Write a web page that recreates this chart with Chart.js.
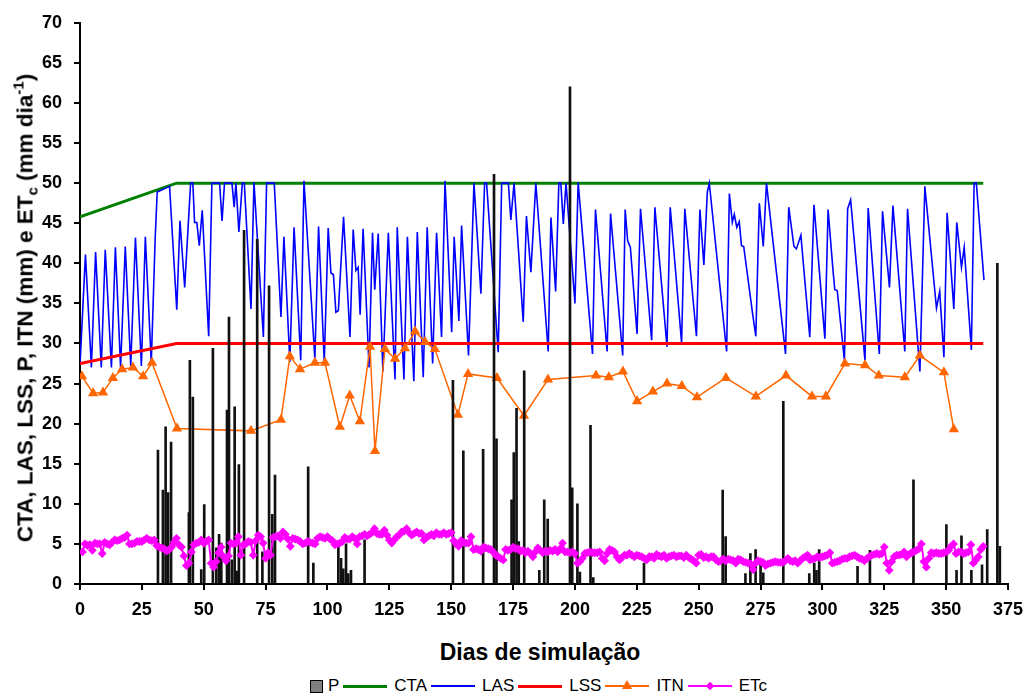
<!DOCTYPE html>
<html>
<head>
<meta charset="utf-8">
<script src="https://cdn.jsdelivr.net/npm/chart.js@4.4.0/dist/chart.umd.js"></script>
<style>
    body { margin: 0; background: #fff; font-family: Arial, "Liberation Sans", sans-serif; }
    #wrap { position: relative; width: 1026px; height: 696px; overflow: hidden; }
    #chart { position: absolute; left: 0; top: 0; }
    #ytitle {
        position: absolute; left: 25px; top: 308px;
        transform: translate(-50%, -50%) rotate(-90deg);
        white-space: nowrap; font-weight: bold; font-size: 22.5px; color: #000;
    }
    #ytitle sub, #ytitle sup { font-size: 15px; }
    #xtitle {
        position: absolute; left: 340px; width: 400px; top: 639px;
        text-align: center; font-weight: bold; font-size: 23px; color: #000;
    }
    #legend {
        position: absolute; left: 310px; top: 676px; height: 20px;
        display: flex; align-items: center; font-size: 17px; color: #000;
    }
    .item { display: flex; align-items: center; margin-right: 4px; }
    .sym { position: relative; width: 44px; height: 14px; margin-right: 7px; }
    .sym .ln { position: absolute; left: 0; right: 0; top: 50%; }
    .box { width: 11px; height: 11px; background: #808080; border: 1px solid #000; margin-right: 5px; }
    .tri { position: absolute; left: 17px; top: 1px; width: 0; height: 0;
           border-left: 5px solid transparent; border-right: 5px solid transparent; border-bottom: 9px solid #ff6600; }
    .dia { position: absolute; left: 19px; top: 4px; width: 6px; height: 6px; background: #ff00ff; transform: rotate(45deg); }
</style>
</head>
<body>
<div id="wrap">
    <canvas id="chart" width="1026" height="630"></canvas>
    <div id="ytitle">CTA, LAS, LSS, P, ITN (mm) e ET<sub>c</sub> (mm dia<sup>-1</sup>)</div>
    <div id="xtitle">Dias de simulação</div>
    <div id="legend">
        <div class="item"><span class="box"></span>P</div>
        <div class="item"><span class="sym"><span class="ln" style="border-top:3px solid #008000;margin-top:-1.5px"></span></span>CTA</div>
        <div class="item"><span class="sym"><span class="ln" style="border-top:2px solid #0000ff;margin-top:-1px"></span></span>LAS</div>
        <div class="item"><span class="sym"><span class="ln" style="border-top:3px solid #ff0000;margin-top:-1.5px"></span></span>LSS</div>
        <div class="item"><span class="sym"><span class="ln" style="border-top:2px solid #ff6600;margin-top:-1px"></span><span class="tri"></span></span>ITN</div>
        <div class="item"><span class="sym"><span class="ln" style="border-top:2px solid #ff00ff;margin-top:-1px"></span><span class="dia"></span></span>ETc</div>
    </div>
</div>
<script>
// Precipitation (P): day, mm
const pDays = [31.5, 33.5, 34.6, 35.6, 36.8, 44, 44.4, 45.6, 49, 50.2, 53.7, 55.1, 56.2, 57.1, 59.4, 60.2, 61.4, 62.5, 63.3, 64.2,
    66.3, 71.6, 73.7, 76.4, 77.7, 78.8, 92.2, 94.3, 104.4, 105.5, 106.4, 107.5, 108.4, 109.5, 115,
    150.7, 154.9, 162.9, 167.3, 168.3, 174.4, 175.3, 176.4, 177.3, 179.5, 185.6, 187.6, 189, 198, 198.9, 201, 202, 206.3, 207.4,
    227.9, 259.7, 260.9, 268.9, 270.9, 273, 275, 276.1, 284.2, 294.7, 296.7, 297.6, 298.7,
    314.2, 319.2, 336.8, 350.1, 354.2, 356.2, 360.2, 364.5, 366.6, 370.7, 371.7];
const pVals = [16.7, 11.7, 19.6, 11.4, 17.7, 8.9, 27.9, 23.3, 1.8, 9.9, 29.4, 4.5, 6.2, 5.1, 21.7, 33.3, 3, 22.1, 1.6, 14.9,
    44.1, 43, 4, 37.2, 8.7, 13.6, 14.6, 2.6, 4.6, 3.2, 1.9, 5, 1.3, 1.7, 5.5,
    25.4, 16.6, 16.8, 51.1, 18.1, 10.5, 16.4, 21.9, 5.3, 26.6, 1.7, 10.5, 8.1, 62, 12, 10, 1.5, 19.8, 0.8,
    2.6, 11.7, 5.9, 1.3, 3.8, 4.3, 2.5, 1.4, 22.8, 1.3, 2.6, 1.7, 4.3,
    2.2, 4.2, 13, 7.4, 1.7, 6, 1.7, 2.4, 6.8, 40, 4.7];

// CTA and LSS
const ctaDays = [0, 39, 365];
const ctaVals = [45.8, 50, 50];
const lssDays = [0, 39, 365];
const lssVals = [27.5, 30, 30];

// LAS (turning points)
const lasDays = [0, 2.2, 4.6, 6.3, 8.6, 10.2, 12.7, 14.3, 16.4, 18.3, 20.5, 22.4, 24.8, 26.4, 28.8, 30.4, 31.2, 36.2, 39.1, 40.4,
    42.3, 44.7, 45.6, 46.3, 47.2, 48.2, 49.4, 52, 53.3, 56.4, 57.4, 58.4, 61.4, 62.3, 63, 64.2, 65.6, 66.4, 69.1, 70.3,
    74.1, 75.4, 78.5, 81.2, 82.4, 84.8, 86.5, 89.2, 90.5, 94.9, 96.4, 98.7, 100.3, 101.4, 102.4, 103.4, 104.4, 106.5, 109.1, 110.4,
    111.5, 112.4, 113.2, 114.4, 116.8, 118.2, 119.1, 120.5, 122.4, 124.6, 127.3, 128.2, 130.9, 132.3, 134.9, 136.3, 138.7, 140.3, 142.5, 144.1,
    146.1, 147.5, 150.2, 151.2, 153.1, 154.2, 157, 159.2, 162, 163.5, 164.3, 169, 170.4, 173.1, 174.1, 175.4, 179.1, 180.4, 182.2, 184.2,
    189.2, 190.3, 192.2, 193.5, 194.3, 195.3, 196.4, 200, 201.3, 207.1, 208.3, 213, 214.4, 219.3, 220.3, 221.3, 222.4, 225.1, 226.5, 231,
    232.3, 237.2, 238.5, 243.1, 244.4, 249.1, 250.5, 252.1, 253.5, 254.3, 261.3, 262.4, 263.6, 264.4, 265.4, 266.4, 267.3, 268.2, 271.8, 273.1,
    274.5, 276.1, 277.4, 285.1, 286.4, 288.5, 289.5, 291.3, 294.9, 296.6, 301, 302.3, 304.1, 305, 306, 308.9, 310.2, 311.4, 317.2, 318.5,
    323, 324.3, 327.1, 328.5, 333.3, 334.4, 339.4, 341.4, 346.1, 347.4, 349.1, 350.4, 353.1, 354.3, 356.2, 357.3, 360.2, 361.3, 362.2, 365.3];
const lasVals = [27.3, 41.1, 27, 41.4, 27, 41.7, 27, 42, 27, 42.1, 27.2, 43.2, 27.2, 43.3, 27.6, 43.3, 48.9, 49.6, 34.2, 45.3,
    37, 50, 50, 45.1, 45.1, 42.2, 46.6, 30.9, 50, 50, 45.3, 50, 50, 47, 50, 43.9, 50, 50, 34.3, 50.1,
    30.8, 50, 50, 33.3, 43.3, 27.7, 44.5, 27.9, 50.3, 28.1, 44.6, 27.7, 44.4, 38.8, 38.6, 33.9, 34.1, 45.8, 30.8, 44.2,
    39.1, 39.5, 33.6, 44.3, 27, 43.8, 36.7, 43.7, 26.5, 43.8, 25.5, 44.5, 25.5, 43.3, 25.3, 43.9, 25.8, 44.5, 27.5, 43.8,
    30.8, 50.3, 31.4, 43.3, 32.8, 44.7, 28.5, 50, 36.2, 50, 50, 28.9, 50, 50, 45.4, 50, 32.7, 45.9, 38.9, 50,
    29, 45.7, 36.5, 50, 50, 44.9, 50, 35, 50.1, 28.7, 46.7, 29, 46.2, 28.5, 46.7, 42.8, 42, 31.2, 46.8, 30.4,
    47, 29.6, 47, 30.1, 46.8, 30.9, 46.7, 39.8, 48.9, 50, 29, 48.7, 45.1, 46.1, 44.5, 45.2, 42.2, 42.1, 33.7, 30.9,
    47.5, 42.1, 50, 28.7, 47, 42.1, 41.8, 43.5, 30.8, 47.3, 30.6, 46.7, 39.8, 36.7, 36.6, 27.9, 46.8, 47.9, 27.9, 46.9,
    28.7, 46.5, 37, 47.2, 29, 46.8, 26.5, 49.6, 34.4, 36.5, 28.3, 46.3, 34.3, 45.1, 39.5, 42, 29.2, 50, 50, 37.9];

// ITN (irrigation events)
const itnDays = [0.8, 5.3, 9.3, 13.3, 17, 21.4, 25.5, 29.1, 39.2, 69.1, 81.2, 84.8, 88.9, 94.9, 99, 105, 109, 113.1, 117.2, 119.2,
    123.2, 127.3, 131.3, 135.4, 139.4, 143.4, 152.7, 156.8, 168.5, 179.4, 189.1, 208.5, 213.7, 219.4, 225.1, 231.5, 237.2, 243.2, 249.3, 261,
    273.1, 285.3, 295.8, 301.4, 309.1, 317.2, 322.8, 333.3, 339.4, 349.1, 353.1];
const itnVals = [25.9, 23.8, 23.9, 25.7, 26.8, 27, 25.9, 27.6, 19.4, 19.1, 20.5, 28.4, 26.8, 27.6, 27.6, 19.6, 23.5, 20.3, 29.6, 16.6,
    29.3, 28.1, 29.4, 31.5, 30.2, 29.3, 21.1, 26.2, 25.7, 21, 25.5, 26, 25.8, 26.5, 22.8, 24, 25, 24.7, 23.3, 25.7,
    23.4, 26, 23.4, 23.4, 27.5, 27.3, 26, 25.8, 28.5, 26.4, 19.3];

// ETc, one value per day from day 1 to day 365
const etcVals = [
    4.0, 5.0, 4.8, 4.9, 4.2, 5.1, 5.0, 5.0, 3.8, 5.2,
    5.0, 4.9, 5.2, 5.5, 5.4, 5.5, 5.7, 5.8, 6.1, 5.0,
    5.0, 5.1, 5.3, 5.3, 5.3, 5.5, 5.7, 5.5, 5.4, 5.5,
    4.8, 4.6, 4.5, 4.4, 4.1, 4.3, 4.6, 5.2, 5.7, 4.9,
    4.6, 3.5, 2.3, 2.6, 4.0, 4.9, 5.1, 5.2, 5.5, 5.1,
    5.3, 5.5, 2.6, 2.1, 2.8, 3.9, 4.6, 3.4, 2.9, 3.5,
    5.1, 5.0, 5.1, 5.9, 3.6, 4.9, 5.0, 5.3, 5.2, 3.6,
    5.4, 6.1, 5.9, 5.1, 3.2, 3.9, 3.6, 5.8, 5.9, 6.0,
    5.7, 6.5, 6.2, 5.6, 4.7, 5.7, 5.6, 5.5, 5.3, 5.0,
    5.1, 5.3, 5.2, 5.1, 5.0, 5.7, 5.9, 5.8, 5.7, 5.9,
    5.6, 5.4, 4.9, 5.0, 5.1, 5.3, 5.8, 5.6, 5.6, 5.9,
    5.7, 5.0, 5.9, 6.0, 6.2, 6.0, 6.2, 6.4, 6.9, 6.3,
    6.2, 6.2, 6.7, 6.1, 5.5, 5.1, 5.5, 5.9, 6.1, 6.5,
    6.6, 6.9, 6.4, 6.1, 6.3, 6.5, 6.3, 6.3, 5.5, 5.8,
    6.0, 6.2, 6.0, 6.4, 6.2, 6.2, 6.4, 6.2, 6.3, 6.4,
    5.4, 5.0, 4.7, 5.4, 5.2, 5.1, 5.1, 5.9, 4.3, 4.4,
    4.3, 4.1, 4.6, 4.5, 4.4, 4.3, 4.0, 3.6, 3.4, 3.2,
    3.0, 4.3, 4.2, 4.3, 4.6, 4.4, 4.4, 4.1, 4.2, 3.9,
    4.1, 3.8, 3.4, 4.0, 4.5, 4.2, 3.9, 4.1, 4.0, 4.2,
    4.1, 4.3, 4.0, 4.4, 5.1, 4.0, 4.0, 3.9, 4.0, 3.8,
    2.6, 2.8, 3.2, 3.8, 3.9, 4.0, 3.9, 3.9, 3.9, 4.0,
    3.2, 2.9, 3.8, 4.3, 4.2, 4.0, 3.4, 3.0, 3.3, 3.6,
    3.6, 3.8, 3.6, 3.4, 3.6, 3.5, 3.4, 3.2, 3.0, 3.4,
    3.4, 3.2, 3.7, 3.5, 3.4, 3.6, 3.2, 3.4, 3.5, 3.6,
    3.4, 3.5, 3.5, 3.3, 3.6, 3.3, 3.1, 2.9, 2.6, 3.6,
    3.7, 3.3, 3.4, 3.2, 3.4, 3.4, 3.0, 2.8, 2.9, 3.1,
    2.9, 3.1, 3.0, 2.9, 2.6, 3.1, 3.0, 2.8, 2.7, 2.6,
    2.5, 1.8, 2.6, 2.9, 2.8, 2.7, 2.3, 2.5, 2.6, 2.7,
    2.8, 2.7, 2.7, 2.7, 2.9, 3.2, 2.9, 2.8, 2.9, 2.6,
    2.9, 3.2, 3.4, 3.6, 3.0, 3.1, 3.2, 3.4, 3.3, 3.4,
    3.5, 3.6, 3.9, 2.6, 2.7, 2.8, 2.9, 3.1, 3.2, 3.2,
    3.4, 3.5, 3.6, 3.4, 3.2, 3.1, 2.9, 3.2, 3.4, 3.6,
    3.7, 3.8, 3.7, 3.8, 4.6, 2.6, 1.7, 2.8, 3.4, 3.6,
    3.6, 3.7, 4.0, 3.4, 3.7, 3.9, 4.0, 4.2, 4.4, 5.0,
    2.8, 2.1, 3.2, 3.9, 3.8, 3.9, 3.8, 3.8, 3.9, 4.0,
    4.2, 4.7, 5.0, 3.8, 4.0, 4.0, 3.8, 3.9, 4.0, 4.9,
    2.6, 3.0, 3.4, 4.3, 4.7
];

const xTicks = [0, 25, 50, 75, 100, 125, 150, 175, 200, 225, 250, 275, 300, 325, 350, 375];
const yTicks = [0, 5, 10, 15, 20, 25, 30, 35, 40, 45, 50, 55, 60, 65, 70];

function pairs(xs, ys) {
    return xs.map((x, i) => ({ x: x, y: ys[i] }));
}

const tickFont = { family: "Arial, 'Liberation Sans', sans-serif", size: 18, weight: 'bold' };

new Chart(document.getElementById('chart'), {
    type: 'bar',
    data: {
        datasets: [
            {
                type: 'bar', label: 'P', data: pairs(pDays, pVals),
                backgroundColor: '#111', borderWidth: 0, barThickness: 2, order: 1
            },
            {
                type: 'line', label: 'CTA', data: pairs(ctaDays, ctaVals),
                borderColor: '#008000', borderWidth: 3, pointRadius: 0, order: 6
            },
            {
                type: 'line', label: 'LAS', data: pairs(lasDays, lasVals),
                borderColor: '#0000ff', borderWidth: 1.6, pointRadius: 0, order: 5
            },
            {
                type: 'line', label: 'LSS', data: pairs(lssDays, lssVals),
                borderColor: '#ff0000', borderWidth: 3, pointRadius: 0, order: 4
            },
            {
                type: 'line', label: 'ITN', data: pairs(itnDays, itnVals),
                borderColor: '#ff6600', borderWidth: 1.5, pointStyle: 'triangle', pointRadius: 4.5,
                pointBackgroundColor: '#ff6600', pointBorderColor: '#ff6600', order: 3
            },
            {
                type: 'line', label: 'ETc', data: etcVals.map((v, i) => ({ x: i + 1, y: v })),
                borderColor: '#ff00ff', borderWidth: 2, pointStyle: 'rectRot', pointRadius: 3,
                pointBackgroundColor: '#ff00ff', pointBorderColor: '#ff00ff', order: 0
            }
        ]
    },
    options: {
        responsive: false,
        animation: false,
        devicePixelRatio: 1,
        layout: { padding: { left: 0, right: 18, top: 22, bottom: 0 } },
        plugins: { legend: { display: false }, tooltip: { enabled: false } },
        scales: {
            x: {
                type: 'linear', min: 0, max: 375, offset: false,
                afterBuildTicks: (s) => { s.ticks = xTicks.map(v => ({ value: v })); },
                afterFit: (s) => { s.height = 46; s.paddingLeft = 0; s.paddingRight = 0; },
                ticks: { font: tickFont, color: '#000', maxRotation: 0, autoSkip: false, padding: 9 },
                grid: { display: true, drawOnChartArea: false, drawTicks: true, tickLength: 6, color: '#000', lineWidth: 2, offset: false },
                border: { display: true, color: '#000', width: 2 }
            },
            y: {
                min: 0, max: 70,
                afterBuildTicks: (s) => { s.ticks = yTicks.map(v => ({ value: v })); },
                afterFit: (s) => { s.width = 80; },
                ticks: { font: tickFont, color: '#000', padding: 12 },
                grid: { display: true, drawOnChartArea: false, drawTicks: true, tickLength: 6, color: '#000', lineWidth: 2 },
                border: { display: true, color: '#000', width: 2 }
            }
        }
    }
});
</script>
</body>
</html>
